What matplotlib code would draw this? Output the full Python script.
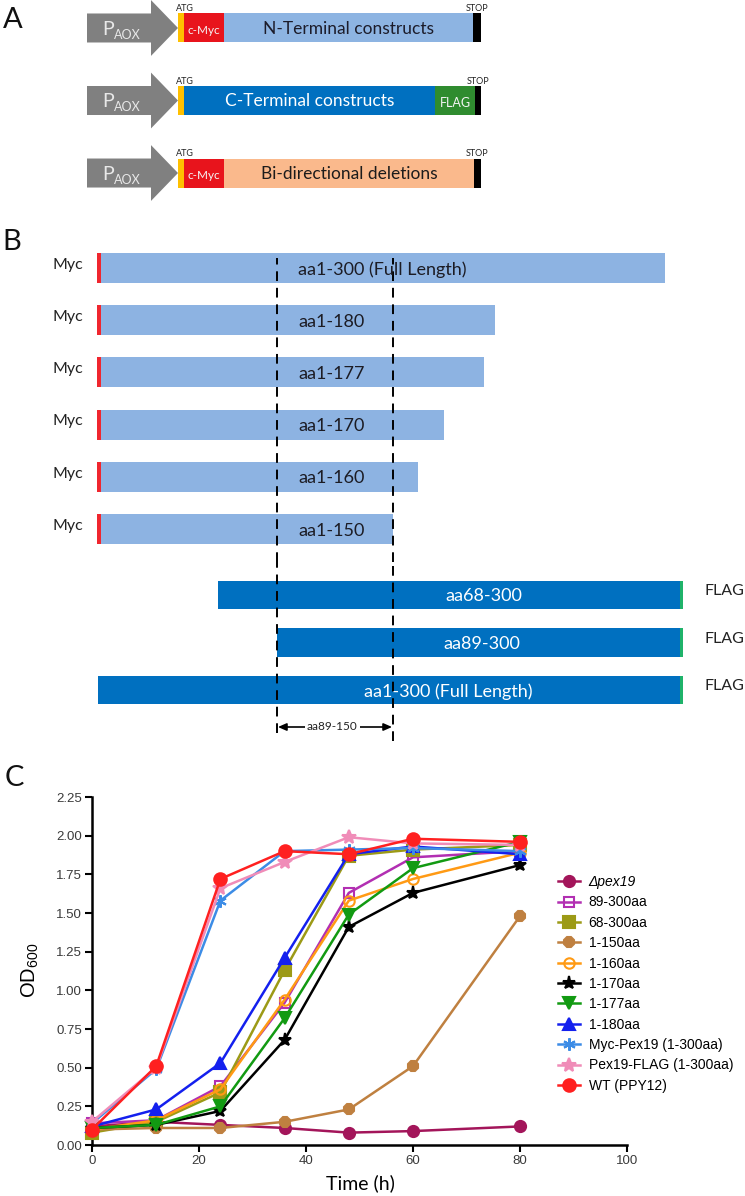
import numpy as np
import matplotlib
matplotlib.use("Agg")
from matplotlib import pyplot as plt
from matplotlib.patches import FancyArrow

plt.rcParams['font.family'] = ['Lato', 'DejaVu Sans']
plt.rcParams['mathtext.fontset'] = 'custom'
plt.rcParams['mathtext.rm'] = 'Liberation Sans'

W, H = 745, 1196

# ---- painel A: cassetes de expressao
cassette_names = ["N-Terminal constructs", "C-Terminal constructs", "Bi-directional deletions"]
cassette_parts = [["ATG", "c-Myc", "body", "STOP"],
                  ["ATG", "body", "FLAG", "STOP"],
                  ["ATG", "c-Myc", "body", "STOP"]]
cassette_lengths = [[6, 40, 249, 8],
                    [6, 251, 40, 6],
                    [6, 40, 250, 7]]

# ---- painel B: construtos
myc_names = ["aa1-300 (Full Length)", "aa1-180", "aa1-177", "aa1-170", "aa1-160", "aa1-150"]
myc_start = [1, 1, 1, 1, 1, 1]
myc_end = [300, 180, 177, 170, 160, 150]
flag_names = ["aa68-300", "aa89-300", "aa1-300 (Full Length)"]
flag_start = [68, 89, 1]
flag_end = [300, 300, 300]
region = (89, 150)

# ---- painel C: curvas de crescimento
time_h = [0, 12, 24, 36, 48, 60, 80]
od_pex19 = [0.12, 0.15, 0.13, 0.11, 0.08, 0.09, 0.12]
od_89_300 = [0.14, 0.16, 0.38, 0.92, 1.63, 1.86, 1.90]
od_68_300 = [0.08, 0.15, 0.34, 1.13, 1.87, 1.91, 1.94]
od_1_150 = [0.10, 0.11, 0.11, 0.15, 0.23, 0.51, 1.48]
od_1_160 = [0.10, 0.16, 0.36, 0.94, 1.58, 1.72, 1.89]
od_1_170 = [0.11, 0.13, 0.22, 0.68, 1.41, 1.63, 1.81]
od_1_177 = [0.11, 0.13, 0.25, 0.82, 1.49, 1.79, 1.96]
od_1_180 = [0.12, 0.23, 0.53, 1.21, 1.88, 1.93, 1.88]
od_myc = [0.14, 0.49, 1.58, 1.90, 1.91, 1.92, 1.90]
od_flag = [0.15, 0.50, 1.66, 1.83, 1.99, 1.95, 1.94]
od_wt = [0.10, 0.51, 1.72, 1.90, 1.88, 1.98, 1.96]

labels_c = ["\u0394pex19", "89-300aa", "68-300aa", "1-150aa", "1-160aa", "1-170aa",
            "1-177aa", "1-180aa", "Myc-Pex19 (1-300aa)", "Pex19-FLAG (1-300aa)", "WT (PPY12)"]
series_c = [od_pex19, od_89_300, od_68_300, od_1_150, od_1_160, od_1_170,
            od_1_177, od_1_180, od_myc, od_flag, od_wt]

colors_c = ["#A3155A", "#B22FB2", "#9C9A16", "#BF8040", "#FF9A14", "#000000",
            "#129A12", "#1420EE", "#3C8CE6", "#F08CB8", "#FF2020"]
markers_c = ["o", "s", "s", "8", "o", "*", "v", "^", (6, 2, 0), "*", "o"]
filled_c = [True, False, True, True, False, True, True, True, True, True, True]
msize_c = [8, 7.5, 8, 8, 7.5, 9.5, 8, 8, 9, 10, 9]

fig = plt.figure(figsize=(W / 100, H / 100), dpi=100)


def fig_box(top, bottom, left=0, right=W):
    return [left / W, 1 - bottom / H, (right - left) / W, (bottom - top) / H]


# ================= A
ax_a = fig.add_axes(fig_box(0, 210))
ax_a.set_xlim(0, W)
ax_a.set_ylim(2.51, -0.386)
ax_a.axis('off')

part_colors = {"ATG": "#FFC000", "c-Myc": "#E8141C", "FLAG": "#2F8C2F", "STOP": "#000000"}
body_colors = ["#8DB4E2", "#0070C0", "#FAB98C"]
body_text = ["#1c1c2a", "white", "#1c1c1c"]

for i in range(len(cassette_names)):
    ax_a.add_patch(FancyArrow(87, i, 91, 0, width=0.4, head_width=0.77, head_length=27,
                              length_includes_head=True, color="#808080", lw=0))
    ax_a.text(102, i + 0.02, "P", fontsize=14, color="#E8E8E8", ha='left', va='center')
    ax_a.text(114, i + 0.09, "AOX", fontsize=9, color="#E8E8E8", ha='left', va='center')
    left = 178
    for p, w in zip(cassette_parts[i], cassette_lengths[i]):
        if p == "body":
            ax_a.barh(i, w, left=left, height=0.4, color=body_colors[i])
            ax_a.text(left + w / 2, i + 0.01, cassette_names[i], fontsize=12.5,
                      color=body_text[i], ha='center', va='center')
        else:
            ax_a.barh(i, w, left=left, height=0.4, color=part_colors[p])
        if p in ("c-Myc", "FLAG"):
            ax_a.text(left + w / 2, i + 0.03, p, fontsize=8.5 if p == "c-Myc" else 9,
                      color="#F4F4F4", ha='center', va='center')
        if p == "ATG":
            ax_a.text(left - 2, i - 0.205, "ATG", fontsize=6.5, color="#222222",
                      ha='left', va='bottom')
        if p == "STOP":
            ax_a.text(left + w / 2, i - 0.205, "STOP", fontsize=6.5, color="#222222",
                      ha='center', va='bottom')
        left += w

fig.text(13 / W, 1 - 20 / H, "A", fontsize=21, ha='center', va='center', color="#111111")

# ================= B
def make_scale(aa_knots, px_knots):
    fwd = lambda v: np.interp(v, aa_knots, px_knots)
    inv = lambda v: np.interp(v, px_knots, aa_knots)
    return fwd, inv


myc_knots = ([-47, 1, 89, 150, 160, 170, 177, 180, 300, 356.5],
             [0, 97, 277, 393, 418, 444, 484, 495, 665, 745])
flag_knots = ([-54, 1, 68, 89, 150, 300, 332],
              [0, 98, 218, 277, 393, 683, 745])

dash = (0, (5, 3.5))

ax_m = fig.add_axes(fig_box(242, 562))
ax_m.set_xscale('function', functions=make_scale(*myc_knots))
ax_m.set_xlim(myc_knots[0][0], myc_knots[0][-1])
ax_m.set_ylim((562 - 268) / 52.2, -(268 - 242) / 52.2)
ax_m.axis('off')
ax_m.barh(range(len(myc_names)), np.array(myc_end) - np.array(myc_start),
          left=myc_start, height=0.575, color="#8DB3E2")
ax_m.barh(range(len(myc_names)), 2, left=myc_start, height=0.575, color="#F0262E")
for i, name in enumerate(myc_names):
    ax_m.text(-6, i - 0.06, "Myc", fontsize=11.5, color="#222222", ha='right', va='center')
    ax_m.text(100, i + 0.03, name, fontsize=13, color="#1c1c24", ha='left', va='center')
for x in region:
    ax_m.axvline(x, ymin=0, ymax=0.95, color='black', lw=1.4, ls=dash)

ax_f = fig.add_axes(fig_box(562, 745))
ax_f.set_xscale('function', functions=make_scale(*flag_knots))
ax_f.set_xlim(flag_knots[0][0], flag_knots[0][-1])
ax_f.set_ylim((745 - 595) / 47.5, -(595 - 562) / 47.5)
ax_f.axis('off')
ax_f.barh(range(len(flag_names)), np.array(flag_end) - np.array(flag_start),
          left=flag_start, height=0.6, color="#0070C0")
ax_f.barh(range(len(flag_names)), 1.5, left=np.array(flag_end) - 1.5, height=0.6, color="#1FB36A")
flag_centers = [197, 196, 178.5]
for i, name in enumerate(flag_names):
    ax_f.text(flag_centers[i], i + 0.03, name, fontsize=13, color="white", ha='center', va='center')
    ax_f.text(311, i - 0.08, "FLAG", fontsize=11.5, color="#222222", ha='left', va='center')
ax_f.axvline(region[0], ymin=12 / 183, ymax=1, color='black', lw=1.4, ls=dash)
ax_f.axvline(region[1], ymin=4 / 183, ymax=1, color='black', lw=1.4, ls=dash)
y_ann = (727 - 595) / 47.5
ax_f.annotate("", xy=(region[0] + 0.5, y_ann), xytext=(region[1] - 0.5, y_ann),
              arrowprops=dict(arrowstyle='<|-|>,head_length=0.5,head_width=0.22',
                              color='black', lw=1.2, shrinkA=0, shrinkB=0))
ax_f.text(118, y_ann, "aa89-150", fontsize=8.5, color="#222222", ha='center', va='center',
          bbox=dict(facecolor='white', edgecolor='none', pad=1.5))

fig.text(12 / W, 1 - 242 / H, "B", fontsize=21, ha='center', va='center', color="#111111")

# ================= C
ax_c = fig.add_axes(fig_box(797, 1145, 92, 627))
for i in range(len(series_c)):
    ax_c.plot(time_h, series_c[i], color=colors_c[i], lw=1.8, marker=markers_c[i],
              ms=msize_c[i], mfc=colors_c[i] if filled_c[i] else 'none',
              mec=colors_c[i], mew=1.5, label=labels_c[i], clip_on=False, zorder=3 + i)

ax_c.set_xlim(0, 100)
ax_c.set_ylim(0, 2.25)
ax_c.set_xticks(np.arange(0, 101, 20))
ax_c.set_yticks(np.arange(0, 2.26, 0.25))
ax_c.set_yticklabels(["%.2f" % v for v in np.arange(0, 2.26, 0.25)])
for s in ["top", "right"]:
    ax_c.spines[s].set_visible(False)
for s in ["left", "bottom"]:
    ax_c.spines[s].set_linewidth(1.8)
ax_c.tick_params(direction='out', length=5, width=1.5, labelsize=9.5, labelcolor="#3a3a3a", pad=2)
for t in ax_c.get_xticklabels() + ax_c.get_yticklabels():
    t.set_family(['Liberation Sans', 'DejaVu Sans'])

fig.text(360 / W, 1 - 1183 / H, "Time (h)", fontsize=14, ha='center', va='center')
fig.text(30 / W, 1 - 970 / H, "OD$_{600}$", fontsize=14.5, rotation=90, ha='center', va='center',
         family=['Liberation Sans', 'DejaVu Sans'])
fig.text(14 / W, 1 - 778 / H, "C", fontsize=21, ha='center', va='center', color="#111111")

leg = ax_c.legend(loc='upper left', bbox_to_anchor=(558 / W, 1 - 875 / H),
                  bbox_transform=fig.transFigure, frameon=False, borderpad=0,
                  borderaxespad=0, handlelength=1.6, handletextpad=0.6, labelspacing=0.46,
                  prop={'family': ['Liberation Sans', 'DejaVu Sans'], 'size': 10})
leg.get_texts()[0].set_fontstyle('italic')

fig.savefig("out.png", dpi=100)
